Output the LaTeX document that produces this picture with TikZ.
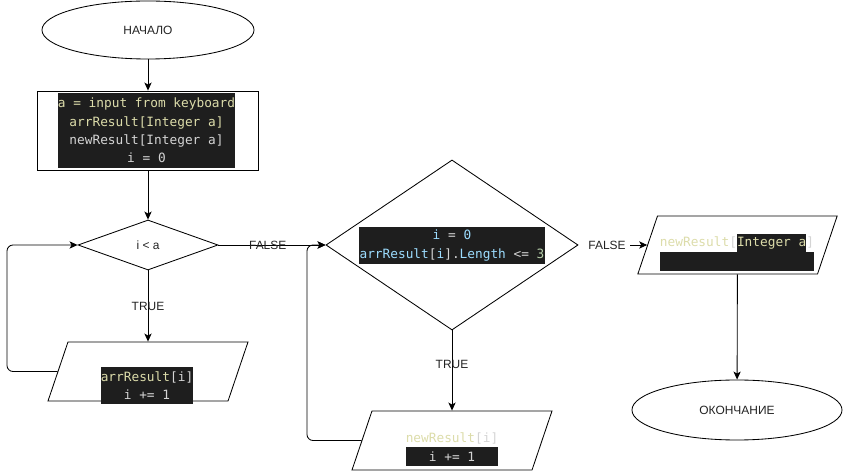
\documentclass[tikz,border=0pt]{standalone}
\usepackage{fontspec}
\setmainfont{Liberation Sans}
\newfontfamily\codefont{DejaVu Sans Mono}
\usetikzlibrary{shapes.geometric,arrows.meta}

\definecolor{codebg}{HTML}{1E1E1E}
\definecolor{codeyel}{HTML}{DCDCAA}
\definecolor{codegry}{HTML}{D4D4D4}
\definecolor{codeblu}{HTML}{9CDCFE}
\definecolor{codegrn}{HTML}{B5CEA8}
\definecolor{labtxt}{HTML}{222222}

\tikzset{
  terminal/.style={ellipse, draw, line width=0.6pt, inner sep=0pt,
    font=\fontsize{8.5}{10}\selectfont, text=labtxt},
  process/.style={rectangle, draw, line width=0.6pt, inner sep=0pt},
  decision/.style={diamond, draw, line width=0.6pt, inner sep=0pt,
    font=\fontsize{8.5}{10}\selectfont, text=labtxt},
  inout/.style={trapezium, trapezium left angle=71.3, trapezium right angle=108.7,
    draw, line width=0.6pt, inner xsep=2cm, inner ysep=0.7375cm},
  codebox/.style={fill=codebg, inner sep=0pt, align=center, text=codegry,
    font=\codefont\fontsize{9.1}{13.1}\selectfont},
  codeplain/.style={inner sep=0pt, align=center, text=codegry,
    font=\codefont\fontsize{9.1}{13.1}\selectfont},
  lbl/.style={font=\fontsize{8.5}{10}\selectfont, text=labtxt, inner sep=1pt},
}

\begin{document}
\begin{tikzpicture}[x=0.025cm,y=-0.025cm,>={Stealth[length=0.2cm,width=0.18cm,inset=0.05cm]}]
  \useasboundingbox (0,0) rectangle (843,471);

  % left column
  \node[terminal, minimum width=5.3cm, minimum height=1.45cm] (start) at (148,30) {НАЧАЛО};
  \node[process, minimum width=5.525cm, minimum height=1.975cm] (init) at (148,130.5) {};
  \node[codebox, minimum width=4.425cm, minimum height=1.875cm] (initcode) at (146.5,130.5)
    {\textcolor{codeyel}{a = input from keyboard}\\
     \textcolor{codeyel}{arrResult[Integer a]}\\
     newResult[Integer a]\\
     i = 0};
  \node[decision, minimum width=3.5cm, minimum height=1.25cm] (cond1) at (148,245) {i < a};
  \node[inout] (io1) at (148,371.5) {};
  \node[codebox, minimum width=2.3cm, minimum height=0.925cm] (io1code) at (147,385.5)
    {\textcolor{codeyel}{arrResult}[i]\\ i += 1};

  % middle column
  \node[decision, minimum width=6.3cm, minimum height=4.25cm] (cond2) at (452,245) {};
  \node[codebox, minimum width=4.625cm, minimum height=0.925cm] (cond2code) at (452,245.5)
    {\textcolor{codeblu}{i} = \textcolor{codeblu}{0}\\
     \textcolor{codeblu}{arrResult}[\textcolor{codeblu}{i}].\textcolor{codeblu}{Length} <= \textcolor{codegrn}{3}};
  \node[inout] (io2) at (452,440.5) {};
  \node[codeplain] (io2text) at (452,438) {\textcolor{codeyel}{newResult}[i]};
  \node[codebox, minimum width=2.3cm, minimum height=0.475cm] (io2code) at (452,456.5) {i += 1};

  % right column
  \node[inout, inner ysep=0.725cm] (io3) at (737.5,245) {};
  \node[codeplain] (io3text) at (737,243)
    {\textcolor{codeyel}{newResult}[{\fboxsep=0pt\colorbox{codebg}{\strut\textcolor{codeyel}{Integer a}}}]};
  \node[codebox, minimum width=3.85cm, minimum height=0.475cm] (io3code) at (737,261.5) {};
  \node[terminal, minimum width=5.25cm, minimum height=1.5cm] (finish) at (737,410) {ОКОНЧАНИЕ};

  \coordinate (loop1) at (7,245);
  \coordinate (loop2) at (307,245);

  \draw[line width=0.6pt,->] (start) -- (init);
  \draw[line width=0.6pt,->] (init) -- (cond1);
  \draw[line width=0.6pt,->] (cond1) -- node[lbl] {TRUE} (io1);
  \draw[line width=0.6pt,->] (cond1) -- node[lbl,pos=0.46] {FALSE} (cond2);
  \draw[line width=0.6pt,->,rounded corners=0.15cm] (io1.west) -| (loop1) -- (cond1.west);
  \draw[line width=0.6pt,->] (cond2) -- node[lbl,pos=0.42] {TRUE} (io2);
  \draw[line width=0.6pt,->,rounded corners=0.15cm] (io2.west) -| (loop2) -- (cond2.west);
  \node[lbl] (false2) at (607,245) {FALSE};
  \draw[line width=0.6pt,->] (false2.east) ++(3,0) -- (io3.west);
  \draw[line width=0.6pt,->] (io3) -- (finish);
\end{tikzpicture}
\end{document}
